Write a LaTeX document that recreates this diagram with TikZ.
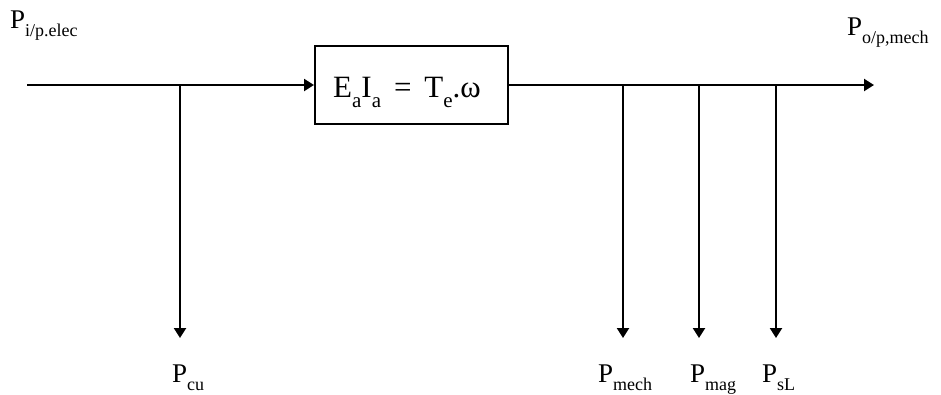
\documentclass[tikz,border=0pt]{standalone}
\usepackage{fontspec}
\setmainfont{Liberation Serif}
\usetikzlibrary{arrows.meta}
\newcommand{\lowsub}[1]{\raisebox{-0.32em}{\fontsize{18}{18}\selectfont #1}}
\newcommand{\boxsub}[1]{\raisebox{-0.33em}{\fontsize{21}{21}\selectfont #1}}
\tikzset{
  flow/.style={line width=2.2pt, -{Triangle[length=10pt,width=12pt]}},
  lbl/.style={inner sep=0pt, anchor=base west, font=\fontsize{27}{27}\selectfont},
  eqbox/.style={draw, line width=2pt, minimum width=193pt, minimum height=78pt, inner sep=0pt}
}
\begin{document}
\begin{tikzpicture}[x=1pt,y=-1pt]
\useasboundingbox (0,0) rectangle (941,394);
\node[eqbox] (box) at (411.5,85) {};
\node[inner sep=0pt, anchor=base west, font=\fontsize{31}{31}\selectfont] (eq) at (333,97) {E\boxsub{a}I\boxsub{a} \,=\, T\boxsub{e}.ω};
\coordinate (start) at (27,85);
\coordinate (end) at (874,85);
\coordinate (b1) at (180,85);
\coordinate (b2) at (623,85);
\coordinate (b3) at (699,85);
\coordinate (b4) at (776,85);
\coordinate (t1) at (180,338);
\coordinate (t2) at (623,338);
\coordinate (t3) at (699,338);
\coordinate (t4) at (776,338);
\draw[flow] (start) -- (box.west);
\draw[flow] (box.east) -- (end);
\draw[flow] (b1) -- (t1);
\draw[flow] (b2) -- (t2);
\draw[flow] (b3) -- (t3);
\draw[flow] (b4) -- (t4);
\node[lbl] (pin) at (10,28) {P\lowsub{i/p.elec}};
\node[lbl] (pout) at (847,35) {P\lowsub{o/p,mech}};
\node[lbl] (pcu) at (172,382) {P\lowsub{cu}};
\node[lbl] (pmech) at (598,382) {P\lowsub{mech}};
\node[lbl] (pmag) at (690,382) {P\lowsub{mag}};
\node[lbl] (psl) at (762,382) {P\lowsub{sL}};
\end{tikzpicture}
\end{document}
